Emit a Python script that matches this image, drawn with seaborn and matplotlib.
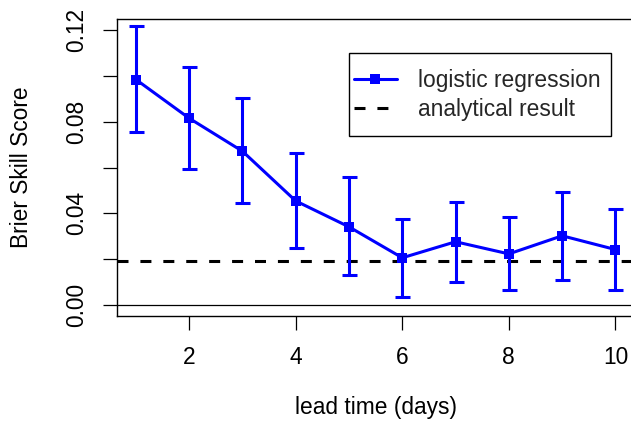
import numpy as np
import pandas as pd
import matplotlib
matplotlib.use("Agg")
import matplotlib.pyplot as plt
import matplotlib.patches as mpatches
import seaborn as sns

# ---- data ----
lead_time = [1, 2, 3, 4, 5, 6, 7, 8, 9, 10]
bss = [0.0984, 0.0815, 0.0671, 0.0454, 0.0341, 0.0206, 0.0276, 0.0223, 0.0302, 0.0242]
bss_lower = [0.0754, 0.0593, 0.0445, 0.0248, 0.0129, 0.0035, 0.0099, 0.0067, 0.0110, 0.0064]
bss_upper = [0.1217, 0.1037, 0.0902, 0.0665, 0.0557, 0.0377, 0.0448, 0.0383, 0.0494, 0.0419]
analytical = 0.0193
x_ticks = [2, 4, 6, 8, 10]
y_ticks = [0.00, 0.02, 0.04, 0.06, 0.08, 0.10, 0.12]
y_ticklabels = ["0.00", "", "0.04", "", "0.08", "", "0.12"]

df = pd.DataFrame({"lead": lead_time, "bss": bss, "lo": bss_lower, "hi": bss_upper})

sns.set_theme(style="white")
plt.rcParams["font.family"] = ["Liberation Sans", "DejaVu Sans"]

FS = 16.4
W, H = 631, 426
fig = plt.figure(figsize=(W / 100, H / 100), dpi=100)
ax = fig.add_axes([116.7 / W, (H - 316) / H, (634.6 - 116.7) / W, (316 - 19) / H])

blue = (0, 0, 1)
lw = 2.2

ax.axhline(0, color="black", lw=0.9, zorder=1)
ax.axhline(analytical, color="black", lw=lw, linestyle=(0, (3.6, 3.9)), zorder=2)

ax.errorbar(df["lead"], df["bss"],
            yerr=[df["bss"] - df["lo"], df["hi"] - df["bss"]],
            fmt="none", ecolor=blue, elinewidth=lw, capsize=5.4, capthick=lw, zorder=3)
sns.lineplot(data=df, x="lead", y="bss", ax=ax, color=blue, lw=lw, marker="s",
             markersize=7.4, markeredgewidth=0, zorder=4)

ax.set_xlim(0.64, 10.36)
ax.set_ylim(-0.0048, 0.1248)
ax.set_xticks(x_ticks)
ax.set_xticklabels([str(t) for t in x_ticks])
ax.set_yticks(y_ticks)
ax.set_yticklabels(y_ticklabels)

for s in ax.spines.values():
    s.set_visible(True)
    s.set_color("black")
    s.set_linewidth(1.0)

ax.tick_params(axis="both", which="major", direction="out", length=10, width=0.9,
               color="black", labelsize=FS, labelcolor="black", bottom=True, left=True)
ax.tick_params(axis="x", pad=11.5)
ax.tick_params(axis="y", pad=10.5, labelrotation=90)
for lab in ax.get_yticklabels():
    lab.set_va("center")

ax.set_xlabel("lead time (days)", fontsize=FS, color="black")
ax.set_ylabel("Brier Skill Score", fontsize=FS, color="black")
ax.xaxis.label.set_va("center")
ax.yaxis.label.set_va("center")
ax.xaxis.set_label_coords(0.5, -0.308)
ax.yaxis.set_label_coords(-0.1835, 0.5)

# legend
h1 = plt.Line2D([], [], color=blue, lw=lw, marker="s", markersize=7.4, markeredgewidth=0)
h2 = plt.Line2D([], [], color="black", lw=lw, linestyle=(0, (3.6, 3.9)))
leg = ax.legend([h1, h2], ["logistic regression", "analytical result"],
                loc="center left", bbox_to_anchor=(0.4582, 0.7441), frameon=False,
                borderpad=0, borderaxespad=0, fontsize=FS, handlelength=1.87,
                handletextpad=0.92, labelspacing=0.26, numpoints=1)
ax.add_patch(mpatches.Rectangle((0.4486, 0.6071), 0.5065, 0.2795, transform=ax.transAxes,
                                fill=False, edgecolor="black", lw=1.0, zorder=5))

fig.savefig("out.png", dpi=100)
